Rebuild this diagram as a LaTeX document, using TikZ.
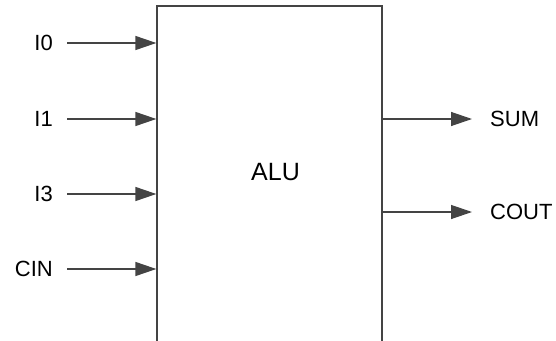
\documentclass[tikz,border=0pt]{standalone}
\usepackage{fontspec}
\setmainfont{Liberation Sans}
\usetikzlibrary{arrows.meta}
\definecolor{lc}{HTML}{444444}
\begin{document}
\begin{tikzpicture}[x=1pt,y=-1pt,
  wire/.style={draw=lc, line width=1.3pt, -{Triangle[length=21pt,width=14pt]}},
  lbl/.style={inner sep=0pt, font=\fontsize{22}{26}\selectfont},
  blk/.style={draw=lc, line width=1.3pt, minimum width=225pt, minimum height=348pt, inner sep=0pt}]
\useasboundingbox (0,0) rectangle (556,340);
\clip (0,0) rectangle (556,340);
\node[blk] (alu) at (269.5,180) {};
\node[lbl, font=\fontsize{25}{30}\selectfont] (alutxt) at (275.5,172) {ALU};
% inputs
\node[lbl, anchor=east] (i0) at (53,43) {I0};
\node[lbl, anchor=east] (i1) at (53,119) {I1};
\node[lbl, anchor=east] (i3) at (53,194) {I3};
\node[lbl, anchor=east] (cin) at (53,269) {CIN};
\coordinate (s0) at (67,43);
\coordinate (s1) at (67,119);
\coordinate (s3) at (67,194);
\coordinate (sc) at (67,269);
\draw[wire] (s0) -- (s0 -| alu.west);
\draw[wire] (s1) -- (s1 -| alu.west);
\draw[wire] (s3) -- (s3 -| alu.west);
\draw[wire] (sc) -- (sc -| alu.west);
% outputs
\node[lbl, anchor=west] (sum) at (490,119) {SUM};
\node[lbl, anchor=west] (cout) at (490,212) {COUT};
\coordinate (e1) at (472,119);
\coordinate (e2) at (472,212);
\draw[wire] (e1 -| alu.east) -- (e1);
\draw[wire] (e2 -| alu.east) -- (e2);
\end{tikzpicture}
\end{document}
